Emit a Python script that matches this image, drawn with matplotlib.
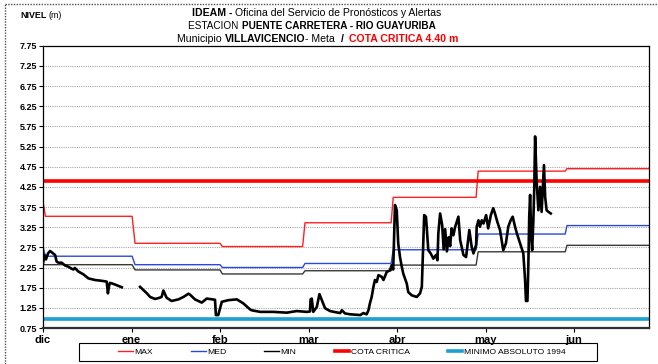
import numpy as np
import matplotlib
matplotlib.use("Agg")
import matplotlib.pyplot as plt
from matplotlib.lines import Line2D
from matplotlib.patches import Rectangle

plt.rcParams['font.family'] = ['Liberation Sans', 'DejaVu Sans']

### Datos

meses = ["dic", "ene", "feb", "mar", "abr", "may", "jun"]
dias_meses = [0, 30, 60, 90, 120, 150, 180]
niveles_ticks = [0.75, 1.25, 1.75, 2.25, 2.75, 3.25, 3.75, 4.25,
                 4.75, 5.25, 5.75, 6.25, 6.75, 7.25, 7.75]
fin = 205.4      # ultimo dia visible

cota_critica = 4.40
minimo_1994 = 0.98

# niveles historicos mensuales (vertices de las escaleras)
esc_dias = [0, 0.8, 30.2, 31.2, 60.0, 60.8, 88.0, 88.8, 118.0, 118.7,
            146.8, 147.5, 177.0, 177.6, fin]
max_vals = [3.90, 3.52, 3.52, 2.85, 2.85, 2.77, 2.77, 3.36, 3.36, 3.99,
            3.99, 4.64, 4.64, 4.70, 4.70]
med_vals = [2.77, 2.53, 2.53, 2.32, 2.32, 2.25, 2.25, 2.35, 2.35, 2.69,
            2.69, 3.08, 3.08, 3.29, 3.29]
min_vals = [2.32, 2.32, 2.32, 2.19, 2.19, 2.09, 2.09, 2.17, 2.17, 2.31,
            2.31, 2.64, 2.64, 2.80, 2.80]

# nivel observado (m), con un hueco sin datos a fines de diciembre
obs_dias = [0.0, 0.5, 1.0, 1.7, 2.4, 3.1, 4.1, 4.6, 5.2, 6.3, 7.5, 8.6,
            9.7, 10.3, 10.8, 12.0, 13.7, 15.4, 17.6, 19.9, 21.6, 22.0,
            22.4, 22.7, 24.0, 25.0, 26.7, 29.0,
            32.9, 34.6, 35.2, 36.3, 38.0, 39.5, 40.2, 40.8, 41.9, 43.6,
            45.9, 47.6, 49.3, 49.8, 51.5, 53.8, 55.5, 58.3, 58.6, 59.4,
            60.0, 60.6, 62.8, 65.7, 67.9, 70.2, 70.7, 73.6, 78.1, 82.6,
            86.0, 89.4, 90.5, 90.7, 91.1, 91.6, 92.8, 93.7, 94.5, 95.6,
            97.3, 100.7, 101.3, 102.4, 104.1, 107.5, 108.6, 109.7, 110.3,
            110.8, 111.4, 112.0, 112.5, 113.1, 113.7, 114.8, 115.4, 116.5,
            117.6, 118.2, 118.7, 119.3, 119.9, 120.4, 121.0, 121.6, 122.1,
            123.3, 123.8, 125.0, 126.7, 127.8, 128.4, 128.9, 129.2, 129.8,
            130.6, 131.4, 132.3, 133.2, 133.7, 134.0, 134.6, 135.3, 135.8,
            136.3, 136.9, 137.5, 138.0, 138.5, 139.1, 139.7, 140.8, 141.4,
            142.5, 143.4, 143.8, 144.5, 145.3, 145.9, 146.8, 147.0, 147.6,
            148.1, 148.7, 149.3, 150.2, 150.9, 151.8, 152.6, 153.2, 154.0,
            154.9, 156.0, 156.9, 157.7, 158.5, 159.2, 160.0, 160.6, 161.7,
            162.8, 163.4, 163.7, 164.2, 164.5, 164.8, 165.1, 165.5, 165.8,
            166.2, 166.5, 166.8, 167.3, 167.9, 168.5, 169.0, 169.8, 170.2,
            170.7, 171.3, 172.1]
obs_vals = [2.35, 2.56, 2.45, 2.60, 2.66, 2.62, 2.56, 2.40, 2.37, 2.37,
            2.30, 2.27, 2.22, 2.20, 2.24, 2.15, 2.08, 1.98, 1.94, 1.92,
            1.90, 1.61, 1.80, 1.87, 1.84, 1.81, 1.76, np.nan,
            1.77, 1.65, 1.61, 1.52, 1.47, 1.50, 1.52, 1.68, 1.50, 1.42,
            1.46, 1.52, 1.60, 1.58, 1.46, 1.38, 1.48, 1.45, 1.07, 1.07,
            1.24, 1.40, 1.44, 1.46, 1.36, 1.21, 1.19, 1.15, 1.15, 1.13,
            1.17, 1.15, 1.16, 1.46, 1.48, 1.15, 1.27, 1.59, 1.44, 1.24,
            1.17, 1.12, 1.19, 1.11, 1.09, 1.07, 1.12, 1.09, 1.19,
            1.36, 1.52, 1.77, 1.94, 1.89, 2.06, 2.02, 1.94, 2.14,
            2.18, 2.31, 2.20, 3.80, 3.67, 2.85, 2.51, 2.27, 2.10,
            1.85, 1.64, 1.56, 1.52, 1.61, 1.77, 2.93, 3.55, 3.51,
            2.68, 2.60, 2.47, 2.56, 2.43, 3.10, 3.59, 3.30, 2.70,
            3.20, 2.65, 3.00, 2.78, 3.22, 3.05, 3.26, 3.51, 2.93,
            2.56, 2.51, 2.76, 3.18, 2.76, 2.60, 2.81, 3.26, 3.42,
            3.26, 3.42, 3.34, 3.55, 3.22, 3.55, 3.72, 3.59, 3.38,
            3.18, 2.68, 2.85, 3.26, 3.42, 3.51, 3.26, 3.10, 2.85,
            2.60, 1.94, 1.42, 1.42, 2.30, 3.50, 4.05, 3.00, 2.68,
            3.40, 4.20, 5.50, 4.42, 3.67, 4.25, 3.63, 4.79, 4.00,
            3.67, 3.63, 3.59]

### Figura

W, H = 658, 364
fig = plt.figure(figsize=(W / 100, H / 100), dpi=100)
ax = fig.add_axes([43 / W, 1 - 328 / H, 606 / W, (328 - 45.7) / H])

ax.plot(esc_dias, max_vals, color="#ff2020", lw=1.0)
ax.plot(esc_dias, med_vals, color="#2a48dc", lw=1.0)
ax.plot(esc_dias, min_vals, color="#383838", lw=1.0)
ax.axhline(cota_critica, color="#ff0000", lw=2.6)
ax.axhline(minimo_1994, color="#1aa0d2", lw=2.6)
ax.plot(obs_dias, obs_vals, color="black", lw=1.9, solid_joinstyle="round")

ax.set_xlim(0, fin)
ax.set_ylim(niveles_ticks[0], niveles_ticks[-1])
ax.set_yticks(niveles_ticks)
ax.set_yticklabels(["%.2f" % v for v in niveles_ticks],
                   fontsize=6.5, fontweight="bold")
ax.set_xticks(dias_meses)
ax.set_xticklabels(meses, fontsize=8, fontweight="bold")
ax.tick_params(axis="y", length=3, width=0.8, pad=1.5)
ax.tick_params(axis="x", length=3, width=0.8, pad=2)
for v in niveles_ticks[1:-1]:
    ax.axhline(v, color="#a8a8a8", lw=0.8, ls=(0, (1, 1)), zorder=0)
for lado in ["left", "right", "top"]:
    ax.spines[lado].set_linewidth(0.9)
ax.spines["bottom"].set_linewidth(1.6)
ax.spines["bottom"].set_color("#303030")

### Titulos

renderer = fig.canvas.get_renderer()


def linea(partes, y, xc, size=7.6):
    # coloca trozos de texto con distinto estilo, centrados en xc (px)
    textos = []
    for t, peso, color in partes:
        textos.append(fig.text(0, 1 - y / H, t, fontsize=size,
                               fontweight=peso, color=color, va="center"))
    anchos = [t.get_window_extent(renderer).width for t in textos]
    x = xc - sum(anchos) / 2
    for t, a in zip(textos, anchos):
        t.set_x(x / W)
        x += a


linea([("IDEAM - ", "bold", "black"),
       ("Oficina del Servicio de Pronósticos y Alertas", "normal", "black")],
      12.5, 317)
linea([("ESTACION ", "normal", "black"),
       ("PUENTE CARRETERA - RIO GUAYURIBA", "bold", "black")], 26, 312,
      size=7.2)
linea([("Municipio ", "normal", "black"), ("VILLAVICENCIO", "bold", "black"),
       ("- Meta  ", "normal", "black"), ("/  ", "bold", "black"),
       ("COTA CRITICA 4.40 m", "bold", "#ff0000")], 39, 318)

t1 = fig.text(20 / W, 1 - 15 / H, "NIVEL", fontsize=6.4, fontweight="bold",
              va="center")
a1 = t1.get_window_extent(renderer).width
fig.text((20 + a1 + 2) / W, 1 - 15 / H, "(m)", fontsize=6.4, va="center")

### Leyenda

manejadores = [Line2D([], [], color="#ff2020", lw=1.0),
               Line2D([], [], color="#2a48dc", lw=1.0),
               Line2D([], [], color="black", lw=1.0),
               Line2D([], [], color="#ff0000", lw=2.6),
               Line2D([], [], color="#1aa0d2", lw=2.6)]
etiquetas = ["MAX", "MED", "MIN", "COTA CRITICA", "MINIMO ABSOLUTO 1994"]
fig.legend(manejadores, etiquetas, ncol=5, frameon=False, loc="center left",
           bbox_to_anchor=(114 / W, 1 - 352 / H), borderpad=0,
           prop={"size": 6.1}, handlelength=1.75,
           handletextpad=0.15, columnspacing=4.5)
fig.patches.append(Rectangle((79 / W, 1 - 361 / H), 518 / W, 18 / H,
                             transform=fig.transFigure, fill=False,
                             edgecolor="black", lw=0.8))

# borde punteado de la hoja
fig.add_artist(Line2D([5 / W, 5 / W], [0, 1 - 4 / H], color="#505050",
                      lw=1.0, ls=(0, (1, 1)), transform=fig.transFigure))
fig.add_artist(Line2D([5 / W, 1], [1 - 4 / H, 1 - 4 / H], color="#505050",
                      lw=1.0, ls=(0, (1, 1)), transform=fig.transFigure))

fig.savefig("out.png", dpi=100)
